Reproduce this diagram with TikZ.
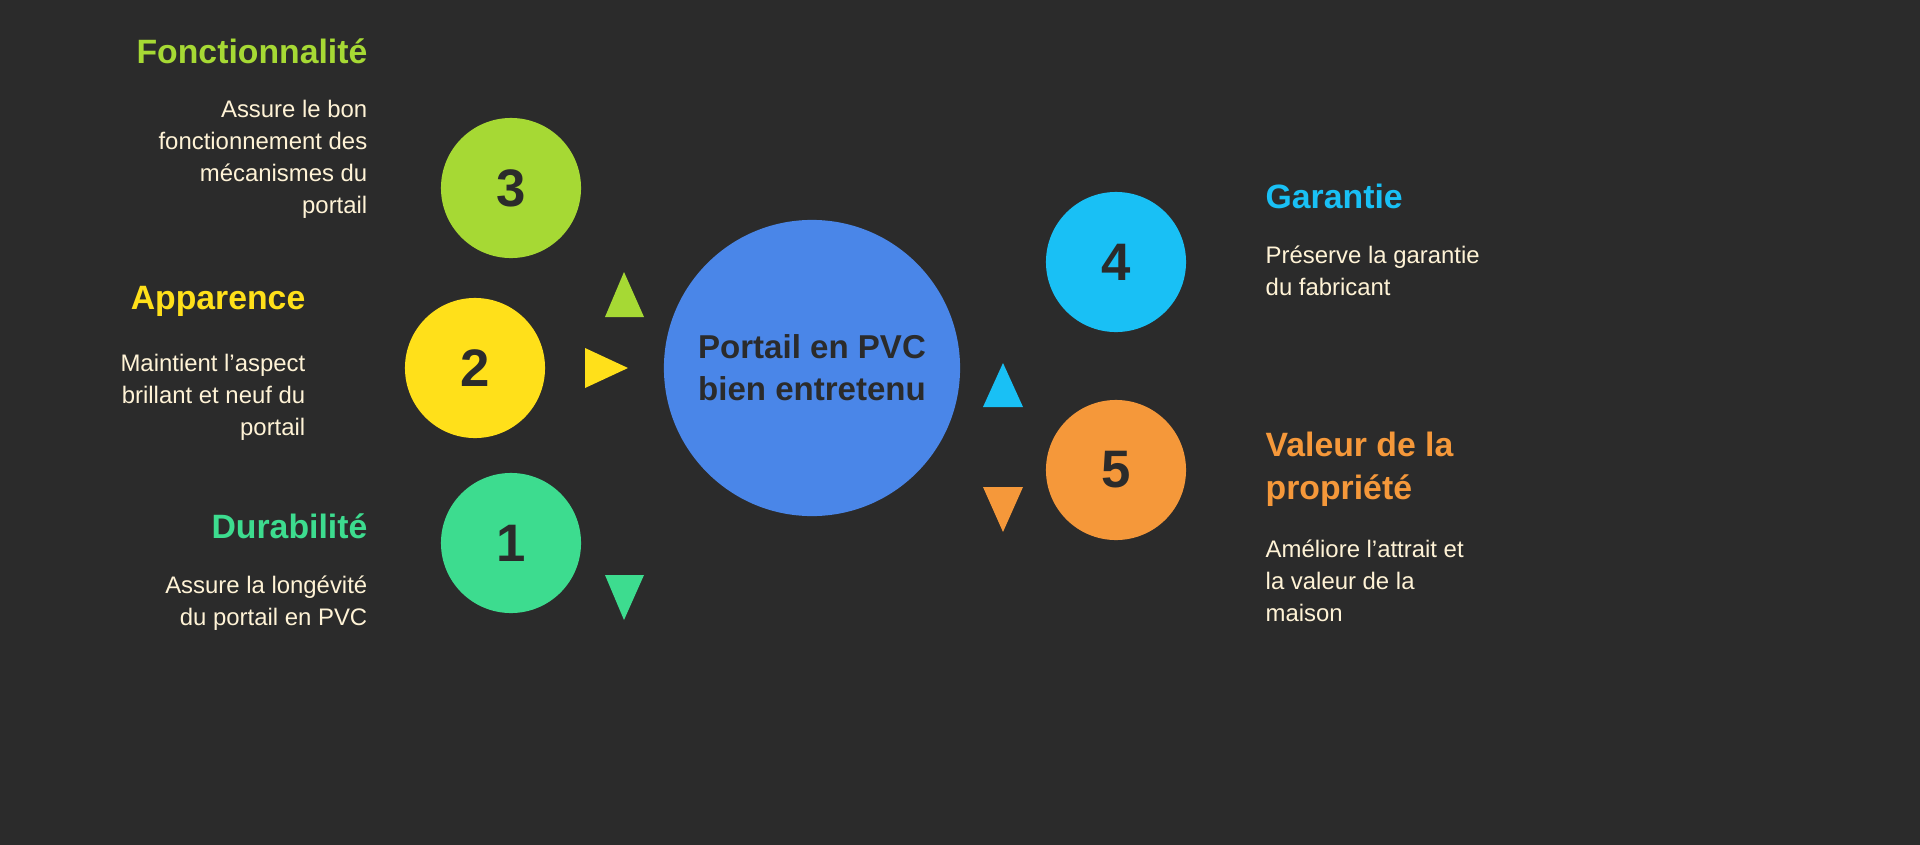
\documentclass[tikz,border=0pt]{standalone}
\usepackage{fontspec}
\setmainfont{Liberation Sans}
\usetikzlibrary{positioning}
\definecolor{bgdark}{HTML}{2B2B2B}
\definecolor{hubblue}{HTML}{4A86E8}
\definecolor{limegreen}{HTML}{A6D934}
\definecolor{sunyellow}{HTML}{FFE01A}
\definecolor{mintgreen}{HTML}{3DDC8F}
\definecolor{skycyan}{HTML}{19C0F5}
\definecolor{warmorange}{HTML}{F5983A}
\definecolor{creamtext}{HTML}{FFF3D6}
\definecolor{inkdark}{HTML}{2B2B2B}

\begin{document}
\begin{tikzpicture}[x=0.01cm, y=-0.01cm,
  numcirc/.style={circle, minimum size=1.4cm, inner sep=0pt, text=inkdark, font=\fontsize{15}{15}\selectfont\bfseries},
  title/.style={font=\fontsize{9.6}{12.2}\selectfont\bfseries, inner sep=0pt},
  desc/.style={font=\fontsize{6.8}{9.1}\selectfont, text=creamtext, inner sep=0pt}]
% background
\fill[bgdark] (0,0) rectangle (1920,845);

% hub
\node[circle, fill=hubblue, minimum size=2.96cm, inner sep=0pt, text=inkdark,
  align=center, font=\fontsize{9.4}{12}\selectfont\bfseries] (hub) at (812,368)
  {Portail en PVC\\bien entretenu};

% numbered circles
\node[numcirc, fill=limegreen] (c3) at (511,188) {3};
\node[numcirc, fill=sunyellow] (c2) at (475,368) {2};
\node[numcirc, fill=mintgreen] (c1) at (511,543) {1};
\node[numcirc, fill=skycyan] (c4) at (1116,262) {4};
\node[numcirc, fill=warmorange] (c5) at (1116,470) {5};

% pointers
\fill[limegreen] (605,317) -- (644,317) -- (624,272) -- cycle;
\fill[sunyellow] (585,348) -- (585,388) -- (628,368) -- cycle;
\fill[mintgreen] (605,575) -- (644,575) -- (624,620) -- cycle;
\fill[skycyan] (983,407) -- (1023,407) -- (1003,363) -- cycle;
\fill[warmorange] (983,487) -- (1023,487) -- (1003,532) -- cycle;

% left labels
\node[title, text=limegreen, anchor=north east] (t3) at (368,38) {Fonctionnalité};
\node[desc, align=right, anchor=north east] (d3) at (368,99)
  {Assure le bon\\fonctionnement des\\mécanismes du\\portail};
\node[title, text=sunyellow, anchor=north east] (t2) at (306,286) {Apparence};
\node[desc, align=right, anchor=north east] (d2) at (306,353)
  {Maintient l'aspect\\brillant et neuf du\\portail};
\node[title, text=mintgreen, anchor=north east] (t1) at (368,513) {Durabilité};
\node[desc, align=right, anchor=north east] (d1) at (368,575)
  {Assure la longévité\\du portail en PVC};

% right labels
\node[title, text=skycyan, anchor=north west] (t4) at (1265,183) {Garantie};
\node[desc, align=left, anchor=north west] (d4) at (1265,245)
  {Préserve la garantie\\du fabricant};
\node[title, text=warmorange, align=left, anchor=north west] (t5) at (1265,431)
  {Valeur de la\\propriété};
\node[desc, align=left, anchor=north west] (d5) at (1265,539)
  {Améliore l'attrait et\\la valeur de la\\maison};
\end{tikzpicture}
\end{document}
